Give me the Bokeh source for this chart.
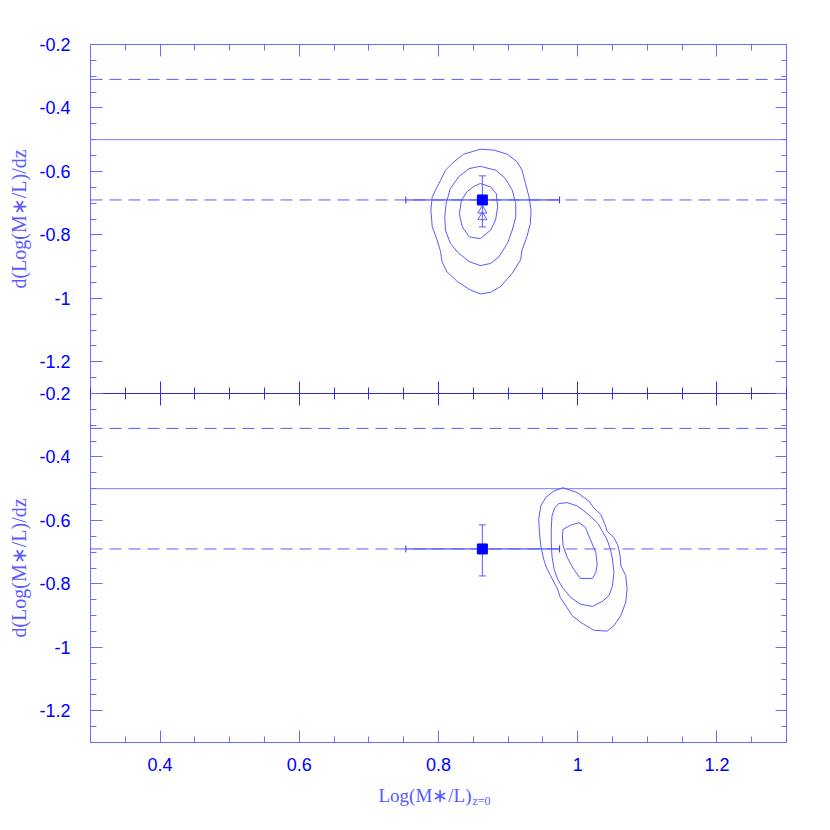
from math import pi
from bokeh.plotting import figure
from bokeh.models import (Range1d, LinearAxis, FixedTicker, CustomJSTickFormatter,
                          Label, Whisker, TeeHead, ColumnDataSource)
from bokeh.embed import file_html
from bokeh.resources import INLINE

# ---------------- data ----------------
x_major = [0.4, 0.6, 0.8, 1.0, 1.2]
x_minor = [0.3, 0.35, 0.4, 0.45, 0.5, 0.55, 0.6, 0.65, 0.7, 0.75, 0.8, 0.85,
           0.9, 0.95, 1.0, 1.05, 1.1, 1.15, 1.2, 1.25, 1.3]
y_major = [-1.2, -1.0, -0.8, -0.6, -0.4, -0.2]
y_minor = [-1.3, -1.25, -1.2, -1.15, -1.1, -1.05, -1.0, -0.95, -0.9, -0.85, -0.8,
           -0.75, -0.7, -0.65, -0.6, -0.55, -0.5, -0.45, -0.4, -0.35, -0.3, -0.25, -0.2]
x_lo, x_hi = 0.3, 1.3      # axis limits of both panels
y_lo, y_hi = -1.3, -0.2
panel_span = y_hi - y_lo

dashed_levels = [-0.31, -0.69]
solid_levels = [-0.5]

pt_x = [0.863]
pt_y = [-0.69]
pt_xlo = [0.753]
pt_xhi = [0.974]
pt_ylo = [-0.775]
pt_yhi = [-0.614]

tri_x = [0.863, 0.863]
tri_y = [-0.723, -0.744]

# top panel contours
top_c1_x = [0.860, 0.880, 0.899, 0.913, 0.920, 0.925, 0.930, 0.933, 0.932, 0.927, 0.920, 0.918,
            0.906, 0.889, 0.875, 0.860, 0.846, 0.827, 0.812, 0.805, 0.803, 0.798, 0.791, 0.789,
            0.791, 0.798, 0.803, 0.810, 0.822, 0.836]
top_c1_y = [-0.530, -0.533, -0.546, -0.570, -0.596, -0.638, -0.680, -0.722, -0.764, -0.806, -0.848, -0.879,
            -0.921, -0.963, -0.981, -0.986, -0.974, -0.947, -0.916, -0.884, -0.853, -0.816, -0.774, -0.722,
            -0.680, -0.649, -0.628, -0.596, -0.570, -0.546]
top_c2_x = [0.860, 0.882, 0.896, 0.906, 0.911, 0.911, 0.906, 0.899, 0.887, 0.875, 0.860, 0.844,
            0.829, 0.817, 0.810, 0.809, 0.811, 0.817, 0.829, 0.844]
top_c2_y = [-0.584, -0.596, -0.622, -0.659, -0.701, -0.743, -0.785, -0.827, -0.869, -0.890, -0.897, -0.884,
            -0.858, -0.827, -0.785, -0.743, -0.701, -0.654, -0.617, -0.591]
top_c3_x = [0.860, 0.875, 0.883, 0.885, 0.882, 0.875, 0.860, 0.844, 0.834, 0.830, 0.833, 0.841, 0.851]
top_c3_y = [-0.638, -0.649, -0.670, -0.712, -0.753, -0.785, -0.812, -0.806, -0.774, -0.733, -0.691, -0.664, -0.647]

# bottom panel contours
bot_c1_x = [0.979, 0.999, 1.016, 1.023, 1.033, 1.040, 1.042, 1.052, 1.058, 1.061, 1.062, 1.069,
            1.071, 1.069, 1.062, 1.052, 1.042, 1.023, 1.004, 0.992, 0.983, 0.975, 0.971, 0.961,
            0.956, 0.951, 0.947, 0.945, 0.944, 0.947, 0.954, 0.966]
bot_c1_y = [-0.497, -0.512, -0.539, -0.560, -0.581, -0.617, -0.633, -0.654, -0.680, -0.712, -0.743, -0.774,
            -0.816, -0.858, -0.900, -0.932, -0.949, -0.946, -0.921, -0.900, -0.869, -0.843, -0.816, -0.774,
            -0.753, -0.722, -0.680, -0.638, -0.596, -0.554, -0.528, -0.507]
bot_c2_x = [0.973, 0.985, 0.999, 1.009, 1.018, 1.030, 1.035, 1.042, 1.047, 1.050, 1.052, 1.050,
            1.045, 1.035, 1.021, 1.004, 0.990, 0.978, 0.971, 0.966, 0.963, 0.962, 0.962, 0.963, 0.967]
bot_c2_y = [-0.547, -0.544, -0.554, -0.570, -0.586, -0.612, -0.633, -0.659, -0.691, -0.722, -0.764, -0.806,
            -0.837, -0.856, -0.871, -0.864, -0.843, -0.811, -0.785, -0.753, -0.712, -0.670, -0.628, -0.586, -0.560]
bot_c3_x = [1.002, 1.011, 1.018, 1.026, 1.028, 1.026, 1.021, 1.004, 0.994, 0.985, 0.979, 0.978, 0.979, 0.990]
bot_c3_y = [-0.607, -0.622, -0.659, -0.701, -0.738, -0.764, -0.783, -0.783, -0.753, -0.717, -0.680, -0.649, -0.628, -0.615]

x_title = "Log(M\u2217/L)"
x_title_sub = "z=0"
y_title = "d(Log(M\u2217/L)/dz"

# ---------------- layout & styles ----------------
PW, PH = 696, 349                  # panel size in px
ML, MR, MT, MB = 90, 30, 44, 70    # margins in px
W, H = ML + PW + MR, MT + 2 * PH + MB
xpp = (x_hi - x_lo) / PW
ypp = panel_span / PH

frame_col = "#6b6bff"
mid_col = "#2f2fe0"
line_col = "#5a5aff"
bar_col = "#2a2aff"
label_col = "#0000ff"
title_col = "#5a5aff"
sans = "Liberation Sans"
serif = "Liberation Serif"

# the frame covers the whole canvas so that all texts are inside it
p = figure(width=W, height=H, frame_width=W, frame_height=H,
           x_range=Range1d(x_lo - ML * xpp, x_hi + MR * xpp),
           y_range=Range1d(y_lo - panel_span - MB * ypp, y_hi + MT * ypp),
           x_axis_location=None, y_axis_location=None,
           min_border_left=0, min_border_right=0, min_border_top=0, min_border_bottom=0,
           output_backend="svg", toolbar_location=None)
p.extra_y_ranges = {"bot": Range1d(y_lo - MB * ypp, y_hi + panel_span + MT * ypp)}
p.grid.visible = False
p.outline_line_color = None
p.background_fill_color = "white"

blank = CustomJSTickFormatter(code="return ''")
numfmt = CustomJSTickFormatter(code="return String(Math.round(tick*10)/10)")
leftfmt = CustomJSTickFormatter(args=dict(span=panel_span, lo=y_lo),
                                code="const v = tick < lo + 0.05 ? tick + span : tick;"
                                     "return String(Math.round(v*10)/10)")


def ticks(ax, mi, mn, mo=0, no=0, col=frame_col):
    ax.major_tick_in = mi
    ax.major_tick_out = mo
    ax.minor_tick_in = mn
    ax.minor_tick_out = no
    ax.major_tick_line_color = col
    ax.minor_tick_line_color = col
    ax.axis_line_color = None


xt = FixedTicker(ticks=x_major, minor_ticks=x_minor)

# top edge ticks
ax = LinearAxis(ticker=xt, formatter=blank, fixed_location=y_hi)
ticks(ax, 12, 6)
p.add_layout(ax, "above")

# middle line ticks (both directions)
ax = LinearAxis(ticker=xt, formatter=blank, fixed_location=y_lo)
ticks(ax, 12, 6, 12, 6, col=mid_col)
p.add_layout(ax, "below")

# bottom labelled axis
ax = LinearAxis(ticker=xt, formatter=numfmt, fixed_location=y_lo - panel_span)
ticks(ax, 12, 6)
ax.major_label_standoff = 15
ax.major_label_text_font = sans
ax.major_label_text_font_size = "18px"
ax.major_label_text_color = label_col
p.add_layout(ax, "below")

# left labelled axis covering both panels (top-panel scale, lower panel shifted)
left_major = y_major + [round(v - panel_span, 3) for v in y_major]
left_minor = y_minor + [round(v - panel_span, 3) for v in y_minor]
ax = LinearAxis(ticker=FixedTicker(ticks=left_major, minor_ticks=left_minor),
                formatter=leftfmt, fixed_location=x_lo)
ticks(ax, 12, 6)
ax.major_label_standoff = 20
ax.major_label_text_font = sans
ax.major_label_text_font_size = "18px"
ax.major_label_text_color = label_col
p.add_layout(ax, "left")

# right edge ticks
ax = LinearAxis(ticker=FixedTicker(ticks=left_major, minor_ticks=left_minor),
                formatter=blank, fixed_location=x_hi)
ticks(ax, 11, 5)
p.add_layout(ax, "right")

# panel frames
p.quad(left=[x_lo], right=[x_hi], top=[y_hi], bottom=[y_lo - panel_span],
       fill_color=None, line_color=frame_col, line_width=1)
p.segment(x0=[x_lo], x1=[x_hi], y0=[y_lo], y1=[y_lo], line_color=mid_col, line_width=1)

panels = [
    ("default", [top_c1_x, top_c2_x, top_c3_x], [top_c1_y, top_c2_y, top_c3_y], True),
    ("bot", [bot_c1_x, bot_c2_x, bot_c3_x], [bot_c1_y, bot_c2_y, bot_c3_y], False),
]
for rn, cxs, cys, with_tri in panels:
    n = len(dashed_levels)
    p.segment(x0=[x_lo] * n, x1=[x_hi] * n, y0=dashed_levels, y1=dashed_levels,
              line_color=line_col, line_width=1, line_dash="12 7", y_range_name=rn)
    n = len(solid_levels)
    p.segment(x0=[x_lo] * n, x1=[x_hi] * n, y0=solid_levels, y1=solid_levels,
              line_color="#7a7aff", line_width=1, y_range_name=rn)
    p.patches(xs=cxs, ys=cys, fill_color=None, line_color=line_col, line_width=1, y_range_name=rn)

    src = ColumnDataSource(dict(x=pt_x, y=pt_y, xlo=pt_xlo, xhi=pt_xhi, ylo=pt_ylo, yhi=pt_yhi))
    p.add_layout(Whisker(source=src, base="y", lower="xlo", upper="xhi", dimension="width",
                         line_color=bar_col, line_width=1, y_range_name=rn,
                         upper_head=TeeHead(size=7, line_color=bar_col, line_width=1),
                         lower_head=TeeHead(size=7, line_color=bar_col, line_width=1)))
    p.add_layout(Whisker(source=src, base="x", lower="ylo", upper="yhi", dimension="height",
                         line_color=line_col, line_width=1, y_range_name=rn,
                         upper_head=TeeHead(size=7, line_color=line_col, line_width=1),
                         lower_head=TeeHead(size=7, line_color=line_col, line_width=1)))
    if with_tri:
        p.scatter(tri_x, tri_y, marker="triangle", size=9, fill_color=None,
                  line_color=line_col, line_width=1, y_range_name=rn)
    p.scatter("x", "y", source=src, marker="square", size=10, fill_color="#0000ff",
              line_color="#0000ff", y_range_name=rn)

    p.add_layout(Label(x=18, y=(y_lo + y_hi) / 2, x_units="screen", y_units="data",
                       y_range_name=rn, text=y_title, angle=pi / 2,
                       text_align="center", text_baseline="middle",
                       text_font=serif, text_font_size="20px", text_color=title_col))

p.add_layout(Label(x=471, y=17, x_units="screen", y_units="screen", text=x_title,
                   text_align="right", text_baseline="alphabetic",
                   text_font=serif, text_font_size="19px", text_color=title_col))
p.add_layout(Label(x=472, y=12, x_units="screen", y_units="screen", text=x_title_sub,
                   text_align="left", text_baseline="alphabetic",
                   text_font=serif, text_font_size="12px", text_color=title_col))

open("out.html", "w").write(file_html(p, INLINE))
